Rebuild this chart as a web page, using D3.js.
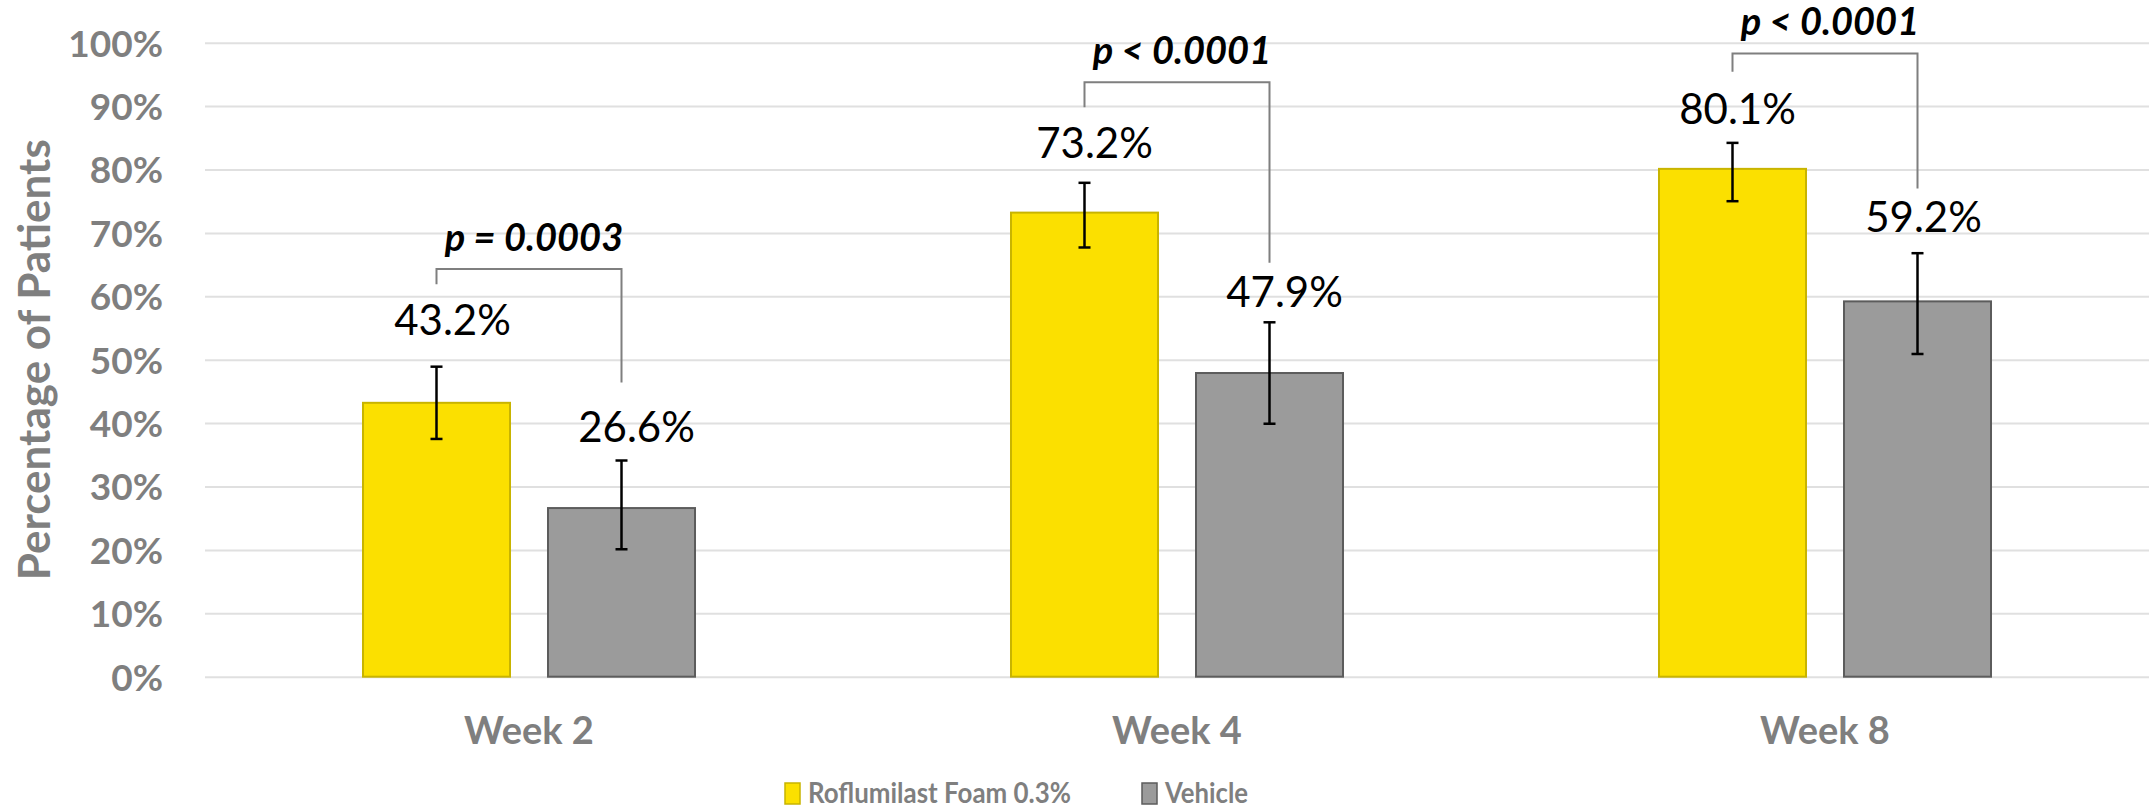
<!DOCTYPE html>
<html>
<head>
<meta charset="utf-8">
<script src="https://cdn.jsdelivr.net/npm/d3@7/dist/d3.min.js"></script>
<style>
  html, body { margin: 0; padding: 0; background: #ffffff; }
  svg { display: block; }
  text { font-family: Lato, "Open Sans", "DejaVu Sans", sans-serif; }
</style>
</head>
<body>
<svg id="chart" width="2150" height="808"></svg>
<script>
// ---------------- data ----------------
const categories = ["Week 2", "Week 4", "Week 8"];
const seriesNames = ["Roflumilast Foam 0.3%", "Vehicle"];
const roflumilastValues = [43.2, 73.2, 80.1];
const vehicleValues = [26.6, 47.9, 59.2];
const roflumilastErrLow = [37.5, 67.7, 75.0];
const roflumilastErrHigh = [48.9, 77.9, 84.2];
const vehicleErrLow = [20.1, 39.9, 50.9];
const vehicleErrHigh = [34.1, 55.9, 66.8];
const pValueLabels = ["p = 0.0003", "p < 0.0001", "p < 0.0001"];
const yTicks = [0, 10, 20, 30, 40, 50, 60, 70, 80, 90, 100];

// ---------------- annotation layout (kept separate from data) ----------------
const bracketTop = [64.3, 93.75, 98.3];
const bracketLeftEnd = [61.9, 89.8, 95.4];
const bracketRightEnd = [46.4, 65.3, 77.0];
const labelNudge = [
  [[16, -32], [15, -19]],
  [[10, -25], [15, -15]],
  [[5, -19], [6, -21]]
];

// ---------------- build ----------------
const svg = d3.select("#chart");
const plotLeft = 205, plotRight = 2149, plotTop = 42.7, plotBottom = 676.7;

const y = d3.scaleLinear().domain([0, 100]).range([plotBottom, plotTop]);
const x0 = d3.scaleBand().domain(categories).range([plotLeft, plotRight]).paddingInner(0).paddingOuter(0);
const x1 = d3.scaleBand().domain(seriesNames).range([0, x0.bandwidth()]).paddingInner(0.2054).paddingOuter(0.854);

const fills = { "Roflumilast Foam 0.3%": "#fbe000", "Vehicle": "#9b9b9b" };
const strokes = { "Roflumilast Foam 0.3%": "#c8b400", "Vehicle": "#5c5c5c" };

const rows = categories.map((c, i) => ({
  cat: c, i,
  bars: [
    { s: seriesNames[0], v: roflumilastValues[i], lo: roflumilastErrLow[i], hi: roflumilastErrHigh[i], k: 0 },
    { s: seriesNames[1], v: vehicleValues[i], lo: vehicleErrLow[i], hi: vehicleErrHigh[i], k: 1 }
  ]
}));

// gridlines + y tick labels
const yAxis = d3.axisLeft(y).tickValues(yTicks).tickFormat(d => d + "%")
  .tickSizeInner(-(plotRight - plotLeft)).tickSizeOuter(0).tickPadding(42);
const gy = svg.append("g").attr("transform", `translate(${plotLeft},0)`).call(yAxis);
gy.select(".domain").remove();
gy.selectAll(".tick line").attr("stroke", "#e0e0e0").attr("stroke-width", 2);
gy.selectAll(".tick text")
  .attr("fill", "#7f7f7f").attr("font-size", 37).attr("font-weight", 700)
  .attr("font-family", "Lato, sans-serif").attr("dy", "0.36em");

// y axis title
svg.append("text")
  .attr("transform", `translate(50,${(plotTop + plotBottom) / 2}) rotate(-90)`)
  .attr("text-anchor", "middle")
  .attr("fill", "#7f7f7f").attr("font-size", 44).attr("font-weight", 700)
  .text("Percentage of Patients");

// x axis labels
const xAxis = d3.axisBottom(x0).tickSize(0).tickPadding(0);
const gx = svg.append("g").attr("transform", `translate(0,${plotBottom})`).call(xAxis);
gx.select(".domain").remove();
gx.selectAll(".tick text")
  .attr("y", 744 - plotBottom).attr("dy", 0)
  .attr("fill", "#7f7f7f").attr("font-size", 38).attr("font-weight", 700)
  .attr("font-family", "Lato, sans-serif");

// bars
const groups = svg.selectAll("g.grp").data(rows).join("g")
  .attr("class", "grp").attr("transform", d => `translate(${x0(d.cat)},0)`);

groups.selectAll("rect").data(d => d.bars).join("rect")
  .attr("x", d => x1(d.s))
  .attr("y", d => y(d.v))
  .attr("width", x1.bandwidth())
  .attr("height", d => y(0) - y(d.v))
  .attr("fill", d => fills[d.s])
  .attr("stroke", d => strokes[d.s])
  .attr("stroke-width", 2);

// error bars, labels, brackets
const capW = 12;
groups.each(function (row) {
  const g = d3.select(this);
  row.bars.forEach(b => {
    const cx = x1(b.s) + x1.bandwidth() / 2;
    g.append("line").attr("x1", cx).attr("x2", cx).attr("y1", y(b.hi)).attr("y2", y(b.lo))
      .attr("stroke", "#000").attr("stroke-width", 2.5);
    [b.hi, b.lo].forEach(v => {
      g.append("line").attr("x1", cx - capW / 2).attr("x2", cx + capW / 2)
        .attr("y1", y(v)).attr("y2", y(v)).attr("stroke", "#000").attr("stroke-width", 2.5);
    });
    const nd = labelNudge[row.i][b.k];
    g.append("text")
      .attr("x", cx + nd[0]).attr("y", y(b.hi) + nd[1])
      .attr("text-anchor", "middle")
      .attr("font-size", 42).attr("fill", "#000")
      .text(b.v.toFixed(1) + "%");
  });

  const lx = x1(seriesNames[0]) + x1.bandwidth() / 2;
  const rx = x1(seriesNames[1]) + x1.bandwidth() / 2;
  const ty = y(bracketTop[row.i]);
  g.append("path")
    .attr("d", `M${lx},${y(bracketLeftEnd[row.i])}V${ty}H${rx}V${y(bracketRightEnd[row.i])}`)
    .attr("fill", "none").attr("stroke", "#7f7f7f").attr("stroke-width", 2);
  g.append("text")
    .attr("x", (lx + rx) / 2 + 5).attr("y", ty - 18)
    .attr("text-anchor", "middle")
    .attr("font-size", 38).attr("font-weight", 700).attr("font-style", "italic")
    .attr("fill", "#000")
    .text(pValueLabels[row.i]);
});

// legend
const legendX = [785, 1142];
const legendTextLen = [263, 83];
const legend = svg.append("g");
seriesNames.forEach((s, i) => {
  legend.append("rect").attr("x", legendX[i]).attr("y", 783).attr("width", 15).attr("height", 21)
    .attr("fill", fills[s]).attr("stroke", strokes[s]).attr("stroke-width", 1.5);
  legend.append("text").attr("x", legendX[i] + 23).attr("y", 803)
    .attr("fill", "#7f7f7f").attr("font-size", 29).attr("font-weight", 700)
    .attr("textLength", legendTextLen[i]).attr("lengthAdjust", "spacingAndGlyphs")
    .text(s);
});
</script>
</body>
</html>
